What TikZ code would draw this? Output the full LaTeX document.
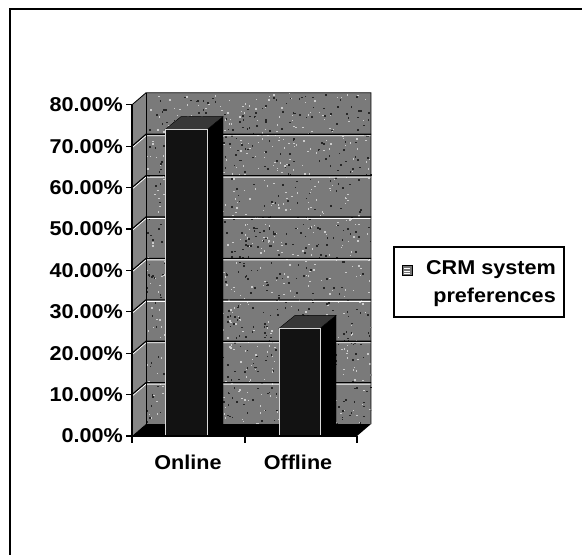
\documentclass[tikz,border=0pt]{standalone}
\usepackage{fontspec}
\setmainfont{Liberation Sans}
\begin{document}
\begin{tikzpicture}[x=1pt,y=-1pt,
  lab/.style={font=\fontsize{20}{22}\selectfont\bfseries, inner sep=0pt, xscale=1.08},
  wallfill/.style={fill=black!52},
  sidefill/.style={fill=black!48},
  floorfill/.style={fill=black},
  speckw/.style={fill=white!80!black},
  speckb/.style={fill=black!85},
  gridblack/.style={draw=black, line width=1.1pt},
  gridwhite/.style={draw=white, line width=0.9pt},
  barfront/.style={fill=black!93, draw=white!85!black, line width=0.6pt},
  barside/.style={fill=black, draw=black, line width=0.4pt},
  bartop/.style={fill=black!78, draw=black, line width=0.4pt},
  axisline/.style={draw=black, line width=1.1pt},
  framebox/.style={draw=black, line width=1.2pt},
  legendbox/.style={draw=black, line width=1.3pt, fill=white}]
\useasboundingbox (0,0) rectangle (582,555);
% outer frame
\draw[framebox] (10,555) -- (10,9) -- (582,9);
% walls
\path[wallfill] (146,92.8) rectangle (371,424);
\path[sidefill] (132,104.8) -- (146,92.8) -- (146,424) -- (132,436) -- cycle;
% dithered texture on the back wall
\pgfmathsetseed{7}
\foreach \i in {1,...,700} {
  \pgfmathsetmacro{\px}{146+225*rnd}
  \pgfmathsetmacro{\py}{93+330*rnd}
  \path[speckw] (\px,\py) rectangle ++(1.4,1.4);
}
\foreach \i in {1,...,700} {
  \pgfmathsetmacro{\px}{146+225*rnd}
  \pgfmathsetmacro{\py}{93+330*rnd}
  \path[speckb] (\px,\py) rectangle ++(1.6,1.6);
}
% gridlines
\foreach \v in {10,20,...,70} {
  \pgfmathsetmacro{\yf}{436-4.14*\v}
  \pgfmathsetmacro{\yb}{\yf-12}
  \draw[gridwhite] (132,\yf+1.5) -- (146,\yb+1.5) -- (371,\yb+1.5);
  \draw[gridblack] (132,\yf) -- (146,\yb) -- (371,\yb);
}
\draw[draw=black, line width=0.8pt] (132,104.8) -- (146,92.8) -- (371,92.8) -- (371,424);
\draw[draw=black, line width=0.8pt] (146,92.8) -- (146,424);
% floor
\path[floorfill] (132,436) -- (357,436) -- (371,424) -- (146,424) -- cycle;
% Online bar (74%)
\path[barside] (207,129.6) -- (223,116.6) -- (223,424) -- (207,436) -- cycle;
\path[bartop] (165,129.6) -- (207,129.6) -- (223,116.6) -- (181,116.6) -- cycle;
\path[barfront] (165,129.6) rectangle (207,436);
% Offline bar (26%)
\path[barside] (320,328.4) -- (336,315.4) -- (336,424) -- (320,436) -- cycle;
\path[bartop] (279,328.4) -- (320,328.4) -- (336,315.4) -- (295,315.4) -- cycle;
\path[barfront] (279,328.4) rectangle (320,436);
% axes
\draw[axisline] (132,104.8) -- (132,436) -- (357,436);
\foreach \v in {0,10,...,80} {
  \pgfmathsetmacro{\yf}{436-4.14*\v}
  \draw[axisline] (126,\yf) -- (132,\yf);
}
\foreach \x in {132,245,357} \draw[axisline] (\x,436) -- (\x,443);
% y labels
\node[lab, anchor=east] (y80) at (123,104.8) {80.00\%};
\node[lab, anchor=east] (y70) at (123,146.2) {70.00\%};
\node[lab, anchor=east] (y60) at (123,187.6) {60.00\%};
\node[lab, anchor=east] (y50) at (123,229.0) {50.00\%};
\node[lab, anchor=east] (y40) at (123,270.4) {40.00\%};
\node[lab, anchor=east] (y30) at (123,311.8) {30.00\%};
\node[lab, anchor=east] (y20) at (123,353.2) {20.00\%};
\node[lab, anchor=east] (y10) at (123,394.6) {10.00\%};
\node[lab, anchor=east] (y0) at (123,436) {0.00\%};
% category labels
\node[lab] (online) at (188,462) {Online};
\node[lab] (offline) at (298,462) {Offline};
% legend
\draw[legendbox] (394,247) rectangle (564,317);
\draw[fill=black!55, draw=black, line width=0.8pt] (402,265.5) rectangle (412,275.5);
\draw[draw=white, line width=0.5pt] (404,268) -- (410,268) (404,271) -- (410,271) (404,273.5) -- (410,273.5);
\node[lab, anchor=east] (leg1) at (556,270) {CRM system};
\node[lab, anchor=east] (leg2) at (556,297) {preferences};
\end{tikzpicture}
\end{document}
